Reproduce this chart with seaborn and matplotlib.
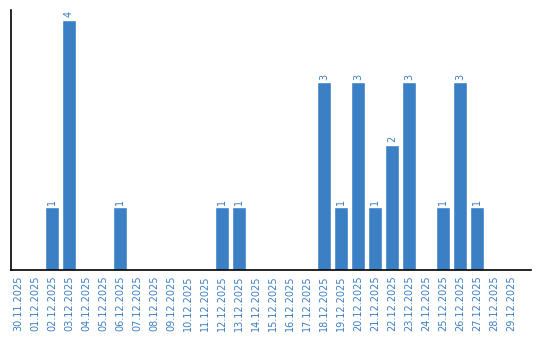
import matplotlib
matplotlib.use("Agg")
import matplotlib.pyplot as plt
import seaborn as sns
import pandas as pd

dates = ["30.11.2025", "01.12.2025", "02.12.2025", "03.12.2025", "04.12.2025",
         "05.12.2025", "06.12.2025", "07.12.2025", "08.12.2025", "09.12.2025",
         "10.12.2025", "11.12.2025", "12.12.2025", "13.12.2025", "14.12.2025",
         "15.12.2025", "16.12.2025", "17.12.2025", "18.12.2025", "19.12.2025",
         "20.12.2025", "21.12.2025", "22.12.2025", "23.12.2025", "24.12.2025",
         "25.12.2025", "26.12.2025", "27.12.2025", "28.12.2025", "29.12.2025"]
counts = [0, 0, 1, 4, 0, 0, 1, 0, 0, 0, 0, 0, 1, 1, 0, 0, 0, 0, 3, 1, 3, 1, 2, 3, 0, 1, 3, 1, 0, 0]

color = "#3b7fc4"
sns.set_style("white")
plt.rcParams["font.family"] = ["DejaVu Sans"]

df = pd.DataFrame({"date": dates, "count": counts})
fig = plt.figure(figsize=(5.4, 3.4), dpi=100)
ax = fig.add_axes([0.0198, 0.206, 0.963, 0.765])
sns.barplot(data=df, x="date", y="count", color=color, saturation=1, width=0.82, ax=ax)

for i, v in enumerate(counts):
    if v > 0:
        ax.text(i, v + 0.04, str(v), rotation=90, ha="center", va="bottom",
                color=color, fontsize=7)

ax.set_ylim(0, 4.16)
ax.set_xlim(-0.43, 30.16)
ax.set_yticks([])
ax.set_xlabel("")
ax.set_ylabel("")
ax.tick_params(axis="x", length=0, pad=4, labelsize=7, labelcolor=color)
for lab in ax.get_xticklabels():
    lab.set_rotation(90)
for s in ["top", "right"]:
    ax.spines[s].set_visible(False)
for s in ["left", "bottom"]:
    ax.spines[s].set_color("black")
    ax.spines[s].set_linewidth(1.2)

fig.savefig("out.png", dpi=100)
